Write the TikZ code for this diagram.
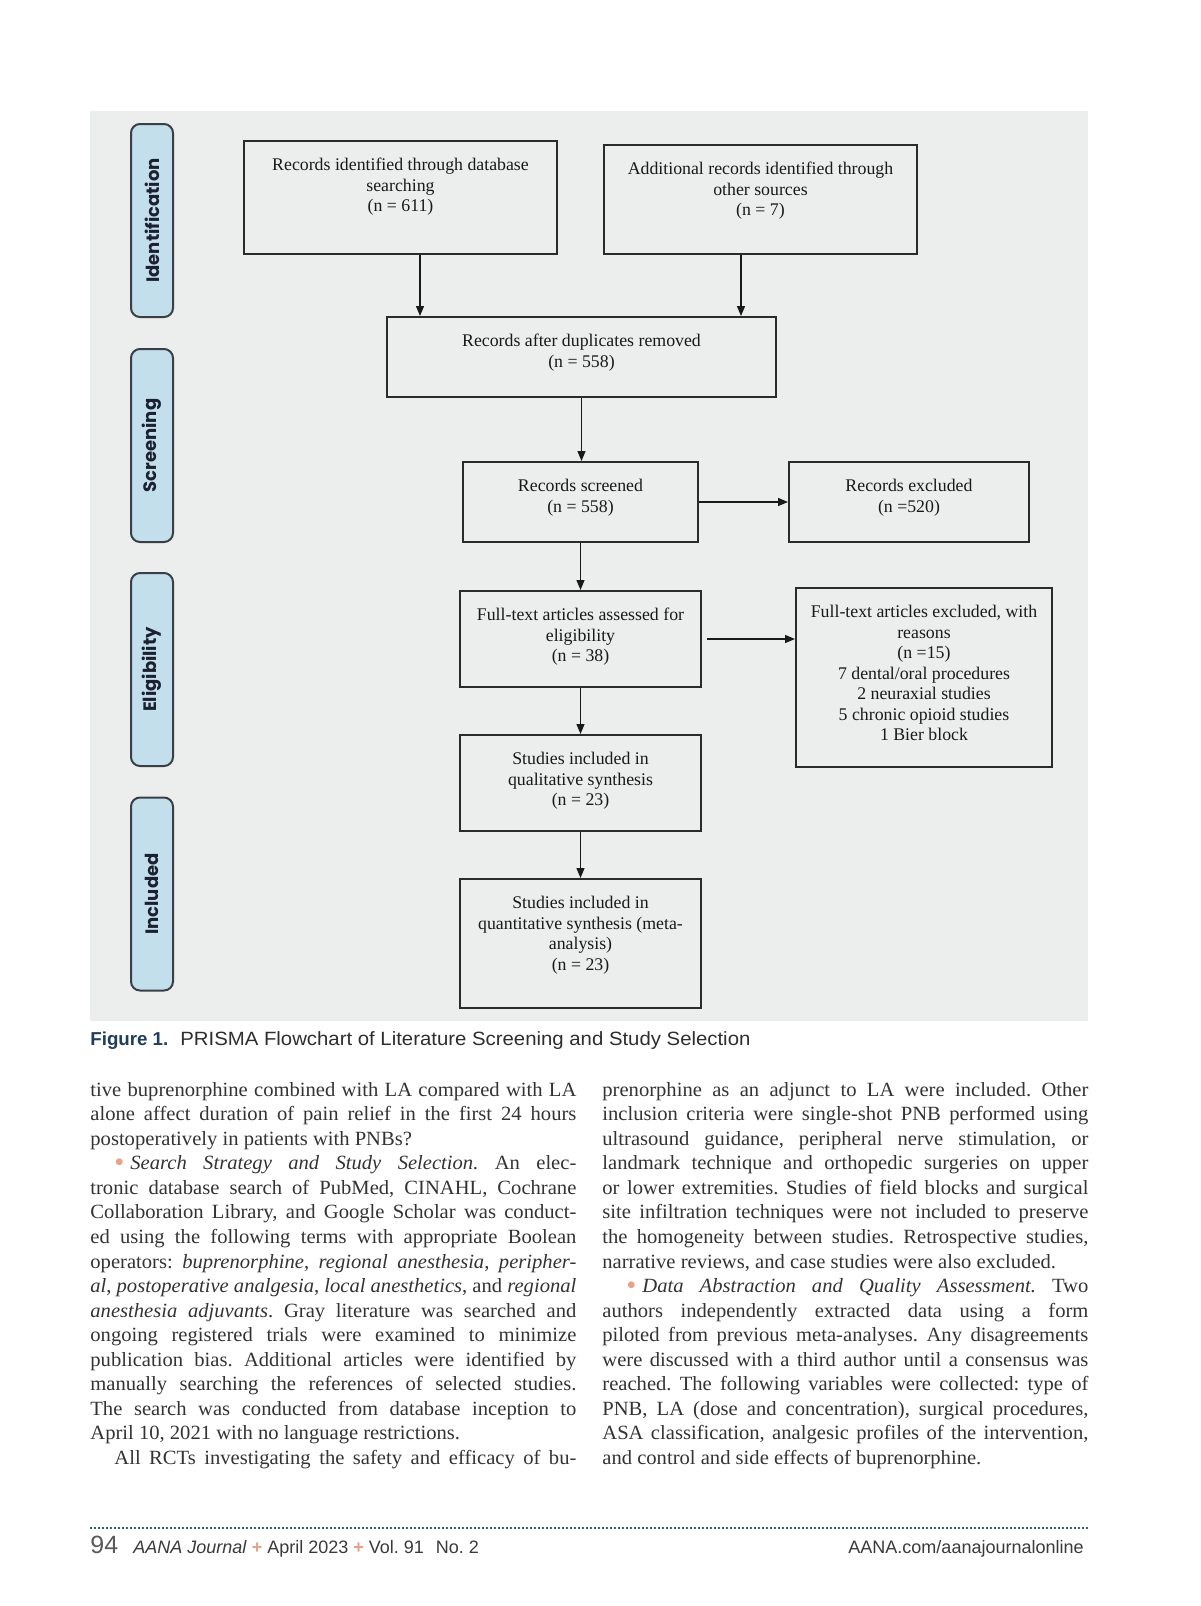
\documentclass[tikz,border=0pt]{standalone}
\usepackage{fontspec}
\setmainfont{Liberation Serif}
\newfontfamily\boxfont{Liberation Serif}
\newfontfamily\bodyfont[FakeStretch=1.02]{Liberation Serif}
\newfontfamily\labfont{Poppins}
\newfontfamily\capfont[FakeStretch=1.06]{Liberation Sans}
\newfontfamily\capbfont{Liberation Sans}
\newfontfamily\footfont{Liberation Sans}
\usetikzlibrary{arrows.meta,calc}

\definecolor{panelc}{HTML}{ECEDED}
\definecolor{boxc}{HTML}{2B2B2B}
\definecolor{sidefill}{HTML}{C3DFEC}
\definecolor{sidedraw}{HTML}{3A3F45}
\definecolor{sidetext}{HTML}{1C2130}
\definecolor{capblue}{HTML}{1F3D5C}
\definecolor{captext}{HTML}{2E2E2E}
\definecolor{bodyc}{HTML}{333333}
\definecolor{bulc}{HTML}{E9A285}
\definecolor{footline}{HTML}{2F6068}
\definecolor{footc}{HTML}{3A3A3A}

\frenchspacing
\newcommand{\jline}[1]{\makebox[\linewidth][s]{#1}\par}
\newcommand{\lline}[1]{#1\par}
\newcommand{\bul}{\textcolor{bulc}{\raisebox{-0.9pt}{\fontsize{14}{12}\selectfont\textbullet}}\hspace{3pt}}

\begin{document}
\begin{tikzpicture}[x=0.5pt,y=-0.5pt,
  fbox/.style={draw=boxc, line width=1pt, inner sep=0pt, anchor=north west},
  ftext/.style={anchor=north, inner sep=0pt, align=center, font=\boxfont\fontsize{8.9}{10.25}\selectfont, text=black!90, yshift=-8pt},
  side/.style={draw=sidedraw, fill=sidefill, line width=1pt, rounded corners=4.5pt, rotate=90, minimum width=96.5pt, minimum height=21pt, inner sep=0pt, font=\labfont\bfseries\fontsize{9}{10}\selectfont, text=sidetext},
  arr/.style={-{Triangle[length=5pt,width=4pt]}, line width=0.65pt, draw=black!90}]

\useasboundingbox (0,0) rectangle (1200,1606);
\fill[white] (0,0) rectangle (1200,1606);
\fill[panelc] (90,111) rectangle (1088,1021);

% side labels
\node[side] (sid) at (152,220.5) {Identification};
\node[side] (scr) at (152,445.5) {Screening};
\node[side] (eli) at (152,669.5) {Eligibility};
\node[side] (inc) at (152,894) {Included};

% boxes
\node[fbox, minimum width=156.5pt, minimum height=56.5pt,
  label={[ftext]north:{\strut Records identified through database\\searching\\(n = 611)}}] (b1) at (243,140) {};
\node[fbox, minimum width=156.5pt, minimum height=54.5pt,
  label={[ftext]north:{\strut Additional records identified through\\other sources\\(n = 7)}}] (b2) at (603,144) {};
\node[fbox, minimum width=194.5pt, minimum height=40pt,
  label={[ftext]north:{\strut Records after duplicates removed\\(n = 558)}}] (b3) at (386,316) {};
\node[fbox, minimum width=117.5pt, minimum height=40pt,
  label={[ftext]north:{\strut Records screened\\(n = 558)}}] (b4) at (462,461) {};
\node[fbox, minimum width=120pt, minimum height=40pt,
  label={[ftext]north:{\strut Records excluded\\(n =520)}}] (b5) at (788,461) {};
\node[fbox, minimum width=120.5pt, minimum height=48pt,
  label={[ftext]north:{\strut Full-text articles assessed for\\eligibility\\(n = 38)}}] (b6) at (459,590) {};
\node[fbox, minimum width=128pt, minimum height=89.5pt,
  label={[ftext]north:{\strut Full-text articles excluded, with\\reasons\\(n =15)\\7 dental/oral procedures\\2 neuraxial studies\\5 chronic opioid studies\\1 Bier block}}] (b7) at (795,587) {};
\node[fbox, minimum width=120.5pt, minimum height=48pt,
  label={[ftext]north:{\strut Studies included in\\qualitative synthesis\\(n = 23)}}] (b8) at (459,734) {};
\node[fbox, minimum width=120.5pt, minimum height=64.5pt,
  label={[ftext]north:{\strut Studies included in\\quantitative synthesis (meta-\\analysis)\\(n = 23)}}] (b9) at (459,878) {};

% connectors
\coordinate (xa) at (420,0);
\coordinate (xb) at (741,0);
\draw[arr] (b1.south -| xa) -- (b3.north -| xa);
\draw[arr] (b2.south -| xb) -- (b3.north -| xb);
\draw[arr] (b3.south) -- (b3.south |- b4.north);
\draw[arr] (b4.east) -- (b5.west);
\draw[arr] (b4.south) -- (b4.south |- b6.north);
\draw[arr] ($(b6.east)+(5,0)$) -- (b7.west |- b6.east);
\draw[arr] (b6.south) -- (b8.north);
\draw[arr] (b8.south) -- (b9.north);

% caption
\node[anchor=base west, inner sep=0pt] (cap) at (90,1045) {\capbfont\bfseries\fontsize{9.35}{11}\selectfont\color{capblue}Figure 1.\hspace{6pt}\capfont\mdseries\fontsize{9.6}{11}\selectfont\color{captext}PRISMA Flowchart of Literature Screening and Study Selection};

% body text
\node[anchor=base west, inner sep=0pt, text=bodyc] (colL) at (90,1096) {\parbox[t]{243pt}{\bodyfont\fontsize{10.1}{12.285}\selectfont\setlength{\parindent}{0pt}%
\jline{tive buprenorphine combined with LA compared with LA}
\jline{alone affect duration of pain relief in the first 24 hours}
\lline{postoperatively in patients with PNBs?}
\jline{\hspace*{12pt}\bul\textit{Search Strategy and Study Selection.} An elec-}
\jline{tronic database search of PubMed, CINAHL, Cochrane}
\jline{Collaboration Library, and Google Scholar was conduct-}
\jline{ed using the following terms with appropriate Boolean}
\jline{operators: \textit{buprenorphine}, \textit{regional anesthesia}, \textit{peripher-}}
\jline{\textit{al}, \textit{postoperative analgesia}, \textit{local anesthetics}, and \textit{regional}}
\jline{\textit{anesthesia adjuvants}. Gray literature was searched and}
\jline{ongoing registered trials were examined to minimize}
\jline{publication bias. Additional articles were identified by}
\jline{manually searching the references of selected studies.}
\jline{The search was conducted from database inception to}
\lline{April 10, 2021 with no language restrictions.}
\jline{\hspace*{12pt}All RCTs investigating the safety and efficacy of bu-}}};

\node[anchor=base west, inner sep=0pt, text=bodyc] (colR) at (602,1096) {\parbox[t]{243pt}{\bodyfont\fontsize{10.1}{12.285}\selectfont\setlength{\parindent}{0pt}%
\jline{prenorphine as an adjunct to LA were included. Other}
\jline{inclusion criteria were single-shot PNB performed using}
\jline{ultrasound guidance, peripheral nerve stimulation, or}
\jline{landmark technique and orthopedic surgeries on upper}
\jline{or lower extremities. Studies of field blocks and surgical}
\jline{site infiltration techniques were not included to preserve}
\jline{the homogeneity between studies. Retrospective studies,}
\lline{narrative reviews, and case studies were also excluded.}
\jline{\hspace*{12pt}\bul\textit{Data Abstraction and Quality Assessment.} Two}
\jline{authors independently extracted data using a form}
\jline{piloted from previous meta-analyses. Any disagreements}
\jline{were discussed with a third author until a consensus was}
\jline{reached. The following variables were collected: type of}
\jline{PNB, LA (dose and concentration), surgical procedures,}
\jline{ASA classification, analgesic profiles of the intervention,}
\lline{and control and side effects of buprenorphine.}}};

% footer
\draw[footline, line width=1pt, dash pattern=on 1pt off 1pt] (90,1528) -- (1088,1528);
\node[anchor=base west, inner sep=0pt] (pg) at (90,1553) {\footfont\fontsize{12.5}{14}\selectfont\color{black!65}94};
\node[anchor=base west, inner sep=0pt] (jr) at (133,1553) {\footfont\fontsize{9}{11}\selectfont\color{footc}\textit{AANA Journal} \textcolor{bulc}{\textbf{+}} April 2023 \textcolor{bulc}{\textbf{+}} Vol.~91\hspace{6pt}No.~2};
\node[anchor=base east, inner sep=0pt] (web) at (1084,1553) {\footfont\fontsize{9}{11}\selectfont\color{footc}AANA.com/aanajournalonline};
\end{tikzpicture}
\end{document}
